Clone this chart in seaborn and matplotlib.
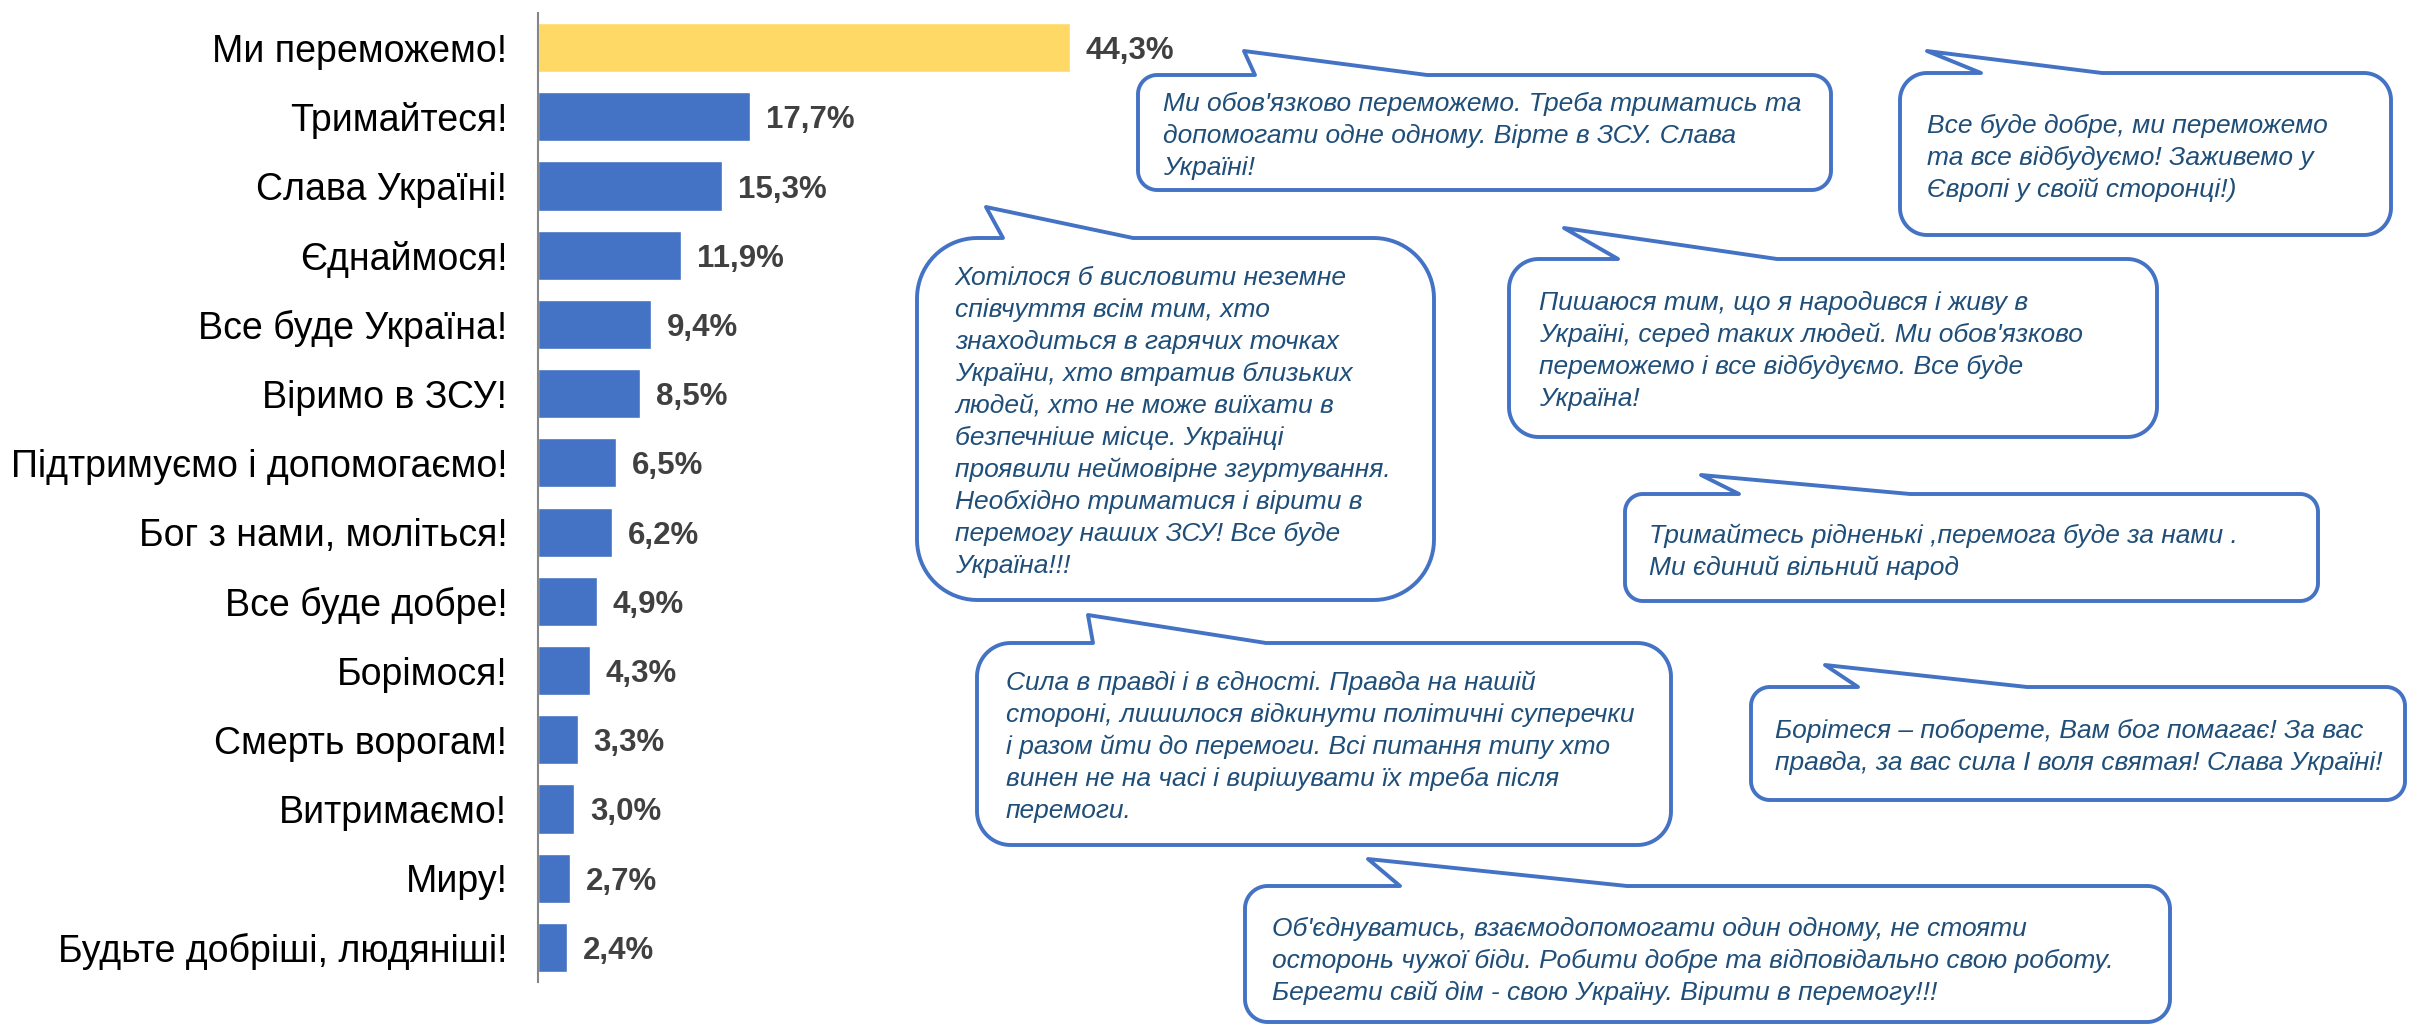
import numpy as np
import pandas as pd
import seaborn as sns
import matplotlib.pyplot as plt
from matplotlib.path import Path
from matplotlib.patches import PathPatch

categories = [
    "Ми переможемо!", "Тримайтеся!", "Слава Україні!", "Єднаймося!",
    "Все буде Україна!", "Віримо в ЗСУ!", "Підтримуємо і допомогаємо!",
    "Бог з нами, моліться!", "Все буде добре!", "Борімося!",
    "Смерть ворогам!", "Витримаємо!", "Миру!", "Будьте добріші, людяніші!",
]
values = [44.3, 17.7, 15.3, 11.9, 9.4, 8.5, 6.5, 6.2, 4.9, 4.3, 3.3, 3.0, 2.7, 2.4]
bar_colors = ["#FFD966"] + ["#4472C4"] * 13

quotes = [
    ["Ми обов'язково переможемо. Треба триматись та",
     "допомогати одне одному. Вірте в ЗСУ. Слава",
     "Україні!"],
    ["Все буде добре, ми переможемо",
     "та все відбудуємо! Заживемо у",
     "Європі у своїй сторонці!)"],
    ["Пишаюся тим, що я народився і живу в",
     "Україні, серед таких людей. Ми обов'язково",
     "переможемо і все відбудуємо. Все буде",
     "Україна!"],
    ["Тримайтесь рідненькі ,перемога буде за нами .",
     "Ми єдиний вільний народ"],
    ["Хотілося б висловити неземне",
     "співчуття всім тим, хто",
     "знаходиться в гарячих точках",
     "України, хто втратив близьких",
     "людей, хто не може виїхати в",
     "безпечніше місце. Українці",
     "проявили неймовірне згуртування.",
     "Необхідно триматися і вірити в",
     "перемогу наших ЗСУ! Все буде",
     "Україна!!!"],
    ["Сила в правді і в єдності. Правда на нашій",
     "стороні, лишилося відкинути політичні суперечки",
     "і разом йти до перемоги. Всі питання типу хто",
     "винен не на часі і вирішувати їх треба після",
     "перемоги."],
    ["Борітеся – поборете, Вам бог помагає! За вас",
     "правда, за вас сила І воля святая! Слава Україні!"],
    ["Об'єднуватись, взаємодопомогати один одному, не стояти",
     "осторонь чужої біди. Робити добре та відповідально свою роботу.",
     "Берегти свій дім - свою Україну. Вірити в перемогу!!!"],
]

# bubble layout in pixels (left, top, right, bottom) / tail (apex x, apex y, base left, base right)
boxes = [(1138, 75, 1831, 190), (1900, 73, 2391, 235), (1509, 259, 2157, 437),
         (1625, 494, 2318, 601), (917, 238, 1434, 600), (977, 643, 1671, 845),
         (1751, 687, 2405, 800), (1245, 886, 2170, 1022)]
tails = [(1244, 51, 1255, 1427), (1927, 51, 1981, 2102), (1564, 228, 1618, 1777),
         (1701, 475, 1739, 1910), (986, 207, 1003, 1133), (1088, 615, 1093, 1266),
         (1825, 665, 1858, 2027), (1368, 859, 1400, 1627)]
text_pos = [(1163, 111), (1927, 133), (1539, 310), (1649, 543),
            (955, 285), (1006, 690), (1775, 738), (1272, 936)]

sns.set_style("white")
plt.rcParams['font.family'] = ['Liberation Sans', 'DejaVu Sans']

W, H = 2410, 1025
fig = plt.figure(figsize=(W / 100, H / 100), dpi=100)
ax = fig.add_axes([538 / W, 1 - 982 / H, 600 / W, 969 / H])

df = pd.DataFrame({"label": categories, "share": values})
sns.barplot(data=df, x="share", y="label", hue="label", palette=bar_colors,
            legend=False, width=0.71, saturation=1, ax=ax)

ax.set_xlim(0, 50)
ax.set_xlabel("")
ax.set_ylabel("")
ax.set_xticks([])
for s in ["top", "right", "bottom"]:
    ax.spines[s].set_visible(False)
ax.spines["left"].set_color("#868686")
ax.spines["left"].set_linewidth(1.5)
ax.tick_params(axis="y", which="major", length=0, pad=22, labelsize=27, labelcolor="black")
ax.set_yticks(np.arange(-0.5, len(categories) - 1), minor=True)
ax.tick_params(axis="y", which="minor", length=7.5, width=1.5, color="#868686")

for i, v in enumerate(values):
    ax.annotate(f"{v:.1f}".replace(".", ",") + "%", xy=(v, i), xytext=(11.5, -8.3),
                textcoords="offset points", va="baseline", ha="left",
                fontsize=22.5, fontweight="bold", color="#404040")

# speech bubbles on an overlay in pixel coordinates
ov = fig.add_axes([0, 0, 1, 1])
ov.set_xlim(0, W)
ov.set_ylim(H, 0)
ov.axis("off")


def bubble(l, t, r, b, apx, apy, bl, br):
    rad = min(r - l, b - t) / 6

    def arc(cx, cy, a0, a1):
        th = np.radians(np.linspace(a0, a1, 20))
        return list(zip(cx + rad * np.cos(th), cy + rad * np.sin(th)))

    pts = arc(l + rad, t + rad, 180, 270)
    pts += [(bl, t), (apx, apy), (br, t)]
    pts += arc(r - rad, t + rad, 270, 360)
    pts += arc(r - rad, b - rad, 0, 90)
    pts += arc(l + rad, b - rad, 90, 180)
    pts.append(pts[0])
    codes = [Path.MOVETO] + [Path.LINETO] * (len(pts) - 2) + [Path.CLOSEPOLY]
    return Path(pts, codes)


for box, tail, pos, lines in zip(boxes, tails, text_pos, quotes):
    ov.add_patch(PathPatch(bubble(*box, *tail), facecolor="white",
                           edgecolor="#4472C4", lw=2.8, joinstyle="round"))
    for j, line in enumerate(lines):
        ov.text(pos[0], pos[1] + 32 * j, line, fontsize=19, style="italic",
                color="#1F4E79", va="baseline", ha="left")

fig.savefig("out.png", dpi=100)
